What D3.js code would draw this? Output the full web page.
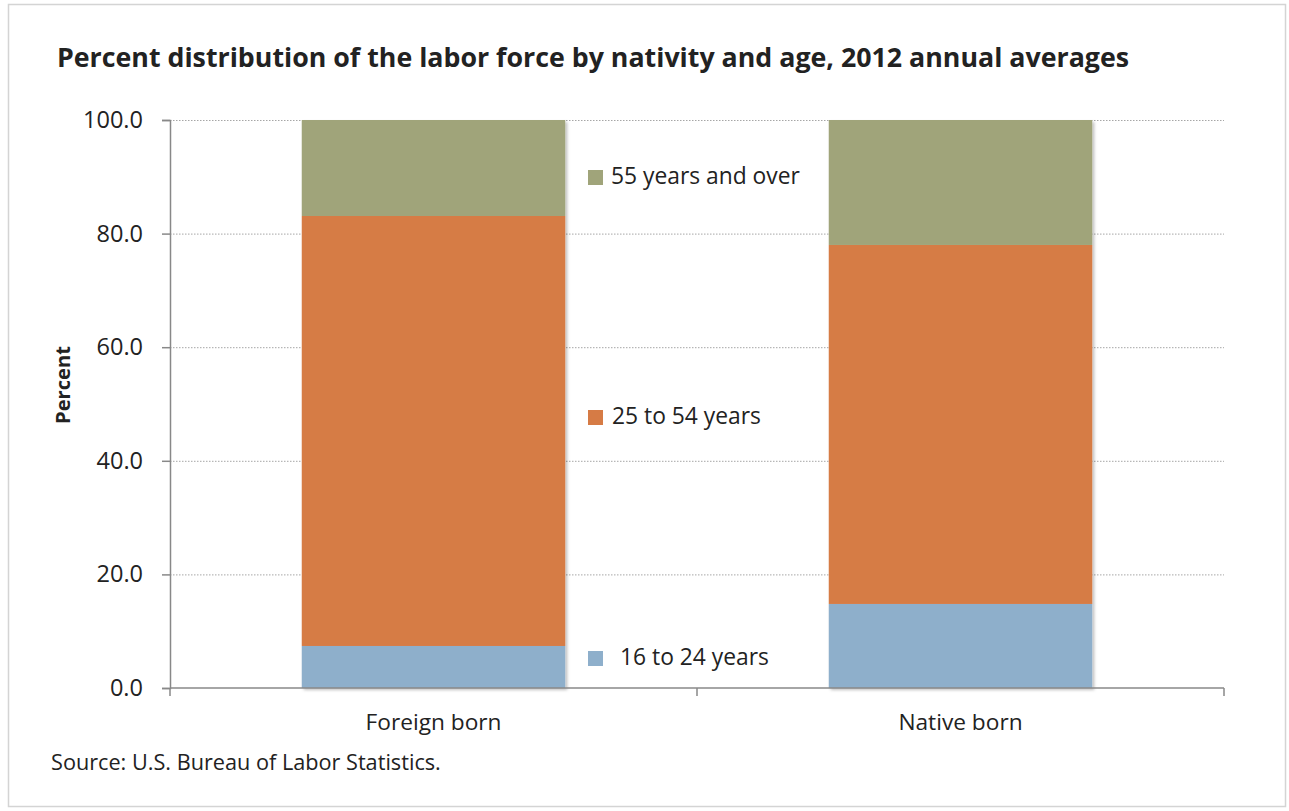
<!DOCTYPE html>
<html><head><meta charset="utf-8">
<script src="https://cdn.jsdelivr.net/npm/d3@7"></script>
<style>body{margin:0;background:#fff}svg{display:block}text{font-family:"Open Sans",Lato,sans-serif;fill:#222}</style>
</head><body><svg id="c" width="1289" height="811"></svg>
<script>
const categories = ["Foreign born", "Native born"];
const seriesNames = ["16 to 24 years", "25 to 54 years", "55 years and over"];
const age16to24 = [7.4, 14.8];
const age25to54 = [75.7, 63.2];
const age55over = [16.9, 22.0];
const yTicks = [0, 20, 40, 60, 80, 100];
const colors = ["#8EAFCB", "#D67B45", "#A0A47A"];

const svg = d3.select("#c");
const M = {left:170, right:1224, top:120, bottom:688};

// fit font-size so text has target width
function fit(sel, target){
  const n = sel.node(); const fs = parseFloat(sel.style("font-size"));
  const w = n.getComputedTextLength();
  const nf = fs*target/w; sel.style("font-size", nf+"px"); return nf;
}

svg.append("rect").attr("x",8.5).attr("y",4.5).attr("width",1277).attr("height",802)
  .attr("fill","none").attr("stroke","#d4d4d4").attr("stroke-width",1.5);

const defs = svg.append("defs");
const f = defs.append("filter").attr("id","sh").attr("x","-5%").attr("y","-5%").attr("width","115%").attr("height","115%");
f.append("feDropShadow").attr("dx",2).attr("dy",2).attr("stdDeviation",1.5).attr("flood-color","#000").attr("flood-opacity",0.25);

const x = d3.scaleBand().domain(categories).range([M.left, M.right]).paddingInner(0.5).paddingOuter(0.25);
const xb = d3.scaleBand().domain(categories).range([M.left, M.right]);
const y = d3.scaleLinear().domain([0,100]).range([M.bottom, M.top]);

// grid
svg.append("g").selectAll("line").data(yTicks.filter(d=>d>0)).join("line")
  .attr("x1",M.left).attr("x2",M.right).attr("y1",d=>y(d)+0.5).attr("y2",d=>y(d)+0.5)
  .attr("stroke","#a6a6a6").attr("stroke-dasharray","1.5,1.5").attr("stroke-width",1);

// stacked bars
const rows = categories.map((c,i)=>({cat:c, s0:age16to24[i], s1:age25to54[i], s2:age55over[i]}));
const stack = d3.stack().keys(["s0","s1","s2"])(rows);
const bars = svg.append("g").attr("filter","url(#sh)");
stack.forEach((layer,k)=>{
  bars.selectAll(null).data(layer).join("rect")
    .attr("x",d=>x(d.data.cat)).attr("width",x.bandwidth())
    .attr("y",d=>y(d[1])).attr("height",d=>y(d[0])-y(d[1]))
    .attr("fill",colors[k]);
});

// y axis
const yAxis = d3.axisLeft(y).tickValues(yTicks).tickFormat(d3.format(".1f")).tickSize(8).tickPadding(19);
const ya = svg.append("g").attr("transform",`translate(${M.left},0)`).call(yAxis);
ya.select(".domain").attr("stroke","#888").attr("stroke-width",1.5);
ya.selectAll(".tick line").attr("stroke","#888").attr("stroke-width",1.5);
const yt = ya.selectAll(".tick text").attr("fill","#222").style("font-family","'Open Sans',sans-serif").style("font-size","17px");
const ytop = ya.selectAll(".tick text").filter(d=>d===100);
const yfs = fit(ytop, 60);
yt.style("font-size", yfs+"px");

// x axis
svg.append("line").attr("x1",M.left).attr("x2",M.right).attr("y1",M.bottom).attr("y2",M.bottom)
  .attr("stroke","#888").attr("stroke-width",1.5);
const xt = [M.left, ...categories.slice(1).map(c=>xb(c)), M.right];
svg.append("g").selectAll("line").data(xt).join("line")
  .attr("x1",d=>d).attr("x2",d=>d).attr("y1",M.bottom).attr("y2",M.bottom+8)
  .attr("stroke","#888").attr("stroke-width",1.5);
const xl = svg.append("g").selectAll("text").data(categories).join("text")
  .attr("x",d=>xb(d)+xb.bandwidth()/2).attr("y",730).attr("text-anchor","middle")
  .style("font-size","18px").text(d=>d);
const xfs = fit(xl.filter((d,i)=>i===0), 136);
xl.style("font-size", xfs+"px");

// legend
const legY = [658, 417, 177];
const legTx = [620, 612, 611];
const lg = svg.append("g");
let lt = [];
seriesNames.forEach((n,i)=>{
  lg.append("rect").attr("x",588).attr("y",legY[i]-7).attr("width",15).attr("height",15).attr("fill",colors[i]);
  lt.push(lg.append("text").attr("x",legTx[i]).attr("y",legY[i]+7).style("font-size","18px").text(n));
});
const lfs = fit(lt[2], 189);
lt.forEach(t=>t.style("font-size", lfs+"px"));

// titles
const title = svg.append("text").attr("x",57).attr("y",67).style("font-size","22px").style("font-weight","bold")
  .attr("fill","#111").text("Percent distribution of the labor force by nativity and age, 2012 annual averages");
fit(title, 1073);
const pl = svg.append("text").attr("transform","translate(70,385) rotate(-90)").attr("text-anchor","middle")
  .style("font-size","16px").style("font-weight","bold").text("Percent");
fit(pl, 78);
const src = svg.append("text").attr("x",51).attr("y",770).style("font-size","17px").text("Source: U.S. Bureau of Labor Statistics.");
fit(src, 390);
</script></body></html>
